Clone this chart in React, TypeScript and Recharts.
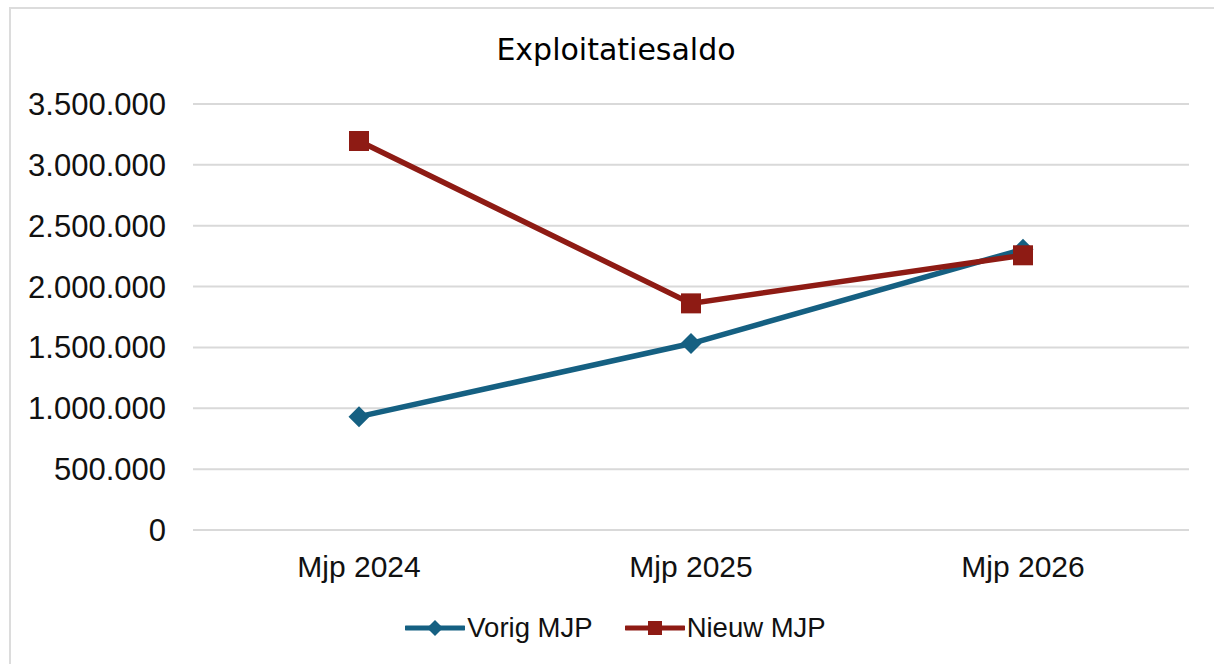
import { LineChart, Line, XAxis, YAxis, CartesianGrid, Legend } from 'recharts'

// Exploitatiesaldo per meerjarenplan
const categories = ['Mjp 2024', 'Mjp 2025', 'Mjp 2026']
const vorigMjp = [931000, 1532000, 2306000]
const nieuwMjp = [3196000, 1862000, 2257000]
const yTicks = [0, 500000, 1000000, 1500000, 2000000, 2500000, 3000000, 3500000]

const TEAL = '#156082'
const RED = '#8E1B14'

const data = categories.map((name, i) => ({
  name,
  vorig: vorigMjp[i],
  nieuw: nieuwMjp[i],
}))

function formatNl(v: number): string {
  return String(Math.round(v)).replace(/\B(?=(\d{3})+(?!\d))/g, '.')
}

function DiamondDot(props: any) {
  const { cx, cy, index } = props
  if (cx == null || cy == null) return null
  const r = 10.5
  return (
    <polygon
      key={`d-${index}`}
      points={`${cx},${cy - r} ${cx + r},${cy} ${cx},${cy + r} ${cx - r},${cy}`}
      fill={TEAL}
    />
  )
}

function SquareDot(props: any) {
  const { cx, cy, index } = props
  if (cx == null || cy == null) return null
  const s = 20
  return <rect key={`s-${index}`} x={cx - s / 2} y={cy - s / 2} width={s} height={s} fill={RED} />
}

function LegendContent() {
  const items = [
    { label: 'Vorig MJP', color: TEAL, shape: 'diamond' },
    { label: 'Nieuw MJP', color: RED, shape: 'square' },
  ]
  return (
    <div style={{ display: 'flex', justifyContent: 'center', gap: 32, paddingLeft: 6 }}>
      {items.map((it) => (
        <div key={it.label} style={{ display: 'flex', alignItems: 'center' }}>
          <svg width={60} height={24} style={{ marginRight: 2 }}>
            <line x1={1} y1={12} x2={59} y2={12} stroke={it.color} strokeWidth={5} strokeLinecap="round" />
            {it.shape === 'diamond' ? (
              <polygon points="30,4 38,12 30,20 22,12" fill={it.color} />
            ) : (
              <rect x={23} y={5} width={14} height={14} fill={it.color} />
            )}
          </svg>
          <span style={{ fontFamily: '"Liberation Sans", Arial, sans-serif', fontSize: 27.5, color: '#111' }}>
            {it.label}
          </span>
        </div>
      ))}
    </div>
  )
}

export default function App() {
  return (
    <div
      style={{
        position: 'absolute',
        left: 0,
        top: 0,
        width: 1214,
        height: 664,
        overflow: 'hidden',
        background: '#fff',
      }}
    >
      <div
        style={{
          position: 'absolute',
          left: 9,
          top: 7,
          width: 1240,
          height: 700,
          border: '2px solid #dcdcdc',
          background: '#fff',
        }}
      >
        <div
          style={{
            position: 'absolute',
            left: 0,
            top: 26,
            width: 1210,
            textAlign: 'center',
            fontFamily: '"DejaVu Sans", sans-serif',
            fontSize: 30,
            lineHeight: '30px',
            color: '#000',
          }}
        >
          Exploitatiesaldo
        </div>
        <LineChart
          width={1203}
          height={655}
          data={data}
          margin={{ top: 95, right: 25, bottom: 64, left: 0 }}
        >
          <CartesianGrid vertical={false} stroke="#d9d9d9" strokeWidth={2} />
          <XAxis
            dataKey="name"
            axisLine={false}
            tickLine={false}
            tickSize={0}
            tickMargin={26}
            height={40}
            padding={{ left: 166, right: 166 }}
            tick={{ fill: '#111', fontSize: 30, fontFamily: '"Liberation Sans", Arial, sans-serif' }}
          />
          <YAxis
            domain={[0, 3500000]}
            ticks={yTicks}
            interval={0}
            axisLine={false}
            tickLine={false}
            tickSize={0}
            tickMargin={27}
            width={182}
            tickFormatter={formatNl}
            tick={{ fill: '#111', fontSize: 31, fontFamily: '"Liberation Sans", Arial, sans-serif' }}
          />
          <Legend
            content={<LegendContent />}
            wrapperStyle={{ position: 'absolute', top: 603, left: 0, width: 1203, height: 30 }}
          />
          <Line
            dataKey="vorig"
            name="Vorig MJP"
            stroke={TEAL}
            strokeWidth={5.5}
            dot={<DiamondDot />}
            activeDot={false}
            isAnimationActive={false}
          />
          <Line
            dataKey="nieuw"
            name="Nieuw MJP"
            stroke={RED}
            strokeWidth={5.5}
            dot={<SquareDot />}
            activeDot={false}
            isAnimationActive={false}
          />
        </LineChart>
      </div>
    </div>
  )
}
